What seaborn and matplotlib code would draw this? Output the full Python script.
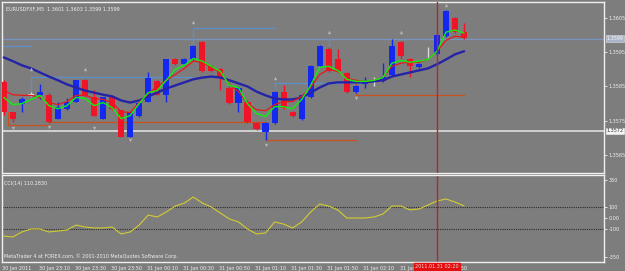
import numpy as np
import pandas as pd
import seaborn as sns
import matplotlib.pyplot as plt
import matplotlib.transforms as mtrans

# EURUSD M5 candles
opens = [1.35862, 1.35776, 1.35800, 1.35826, 1.35824, 1.35826, 1.35756, 1.35785, 1.35806, 1.35868,
         1.35818, 1.35756, 1.35821, 1.35782, 1.35703, 1.35765, 1.35806, 1.35865, 1.35824, 1.35929,
         1.35915, 1.35929, 1.35979, 1.35909, 1.35900, 1.35847, 1.35803, 1.35806, 1.35744, 1.35718,
         1.35744, 1.35835, 1.35776, 1.35756, 1.35818, 1.35909, 1.35959, 1.35929, 1.35888, 1.35835,
         1.35856, 1.35865, 1.35865, 1.35885, 1.35979, 1.35929, 1.35906, 1.35941, 1.35944, 1.35997,
         1.36050, 1.36009]
highs = [1.35868, 1.35776, 1.35818, 1.35835, 1.35856, 1.35832, 1.35806, 1.35815, 1.35868, 1.35871,
         1.35841, 1.35818, 1.35824, 1.35782, 1.35776, 1.35806, 1.35891, 1.35868, 1.35929, 1.35932,
         1.35932, 1.35971, 1.35982, 1.35912, 1.35903, 1.35850, 1.35850, 1.35809, 1.35747, 1.35747,
         1.35838, 1.35853, 1.35779, 1.35829, 1.35912, 1.35971, 1.35965, 1.35959, 1.35891, 1.35853,
         1.35879, 1.35879, 1.35918, 1.35988, 1.35982, 1.35932, 1.35918, 1.35965, 1.36003, 1.36074,
         1.36053, 1.36035]
lows = [1.35768, 1.35747, 1.35776, 1.35821, 1.35812, 1.35744, 1.35756, 1.35782, 1.35806, 1.35818,
        1.35765, 1.35756, 1.35782, 1.35703, 1.35703, 1.35762, 1.35806, 1.35824, 1.35806, 1.35912,
        1.35912, 1.35926, 1.35891, 1.35891, 1.35841, 1.35800, 1.35776, 1.35744, 1.35723, 1.35694,
        1.35741, 1.35785, 1.35762, 1.35753, 1.35815, 1.35906, 1.35891, 1.35891, 1.35832, 1.35832,
        1.35847, 1.35850, 1.35862, 1.35882, 1.35929, 1.35879, 1.35903, 1.35929, 1.35941, 1.35994,
        1.36006, 1.35988]
closes = [1.35774, 1.35756, 1.35812, 1.35826, 1.35835, 1.35747, 1.35791, 1.35806, 1.35868, 1.35821,
          1.35765, 1.35818, 1.35785, 1.35703, 1.35776, 1.35803, 1.35876, 1.35826, 1.35929, 1.35915,
          1.35929, 1.35968, 1.35894, 1.35894, 1.35879, 1.35803, 1.35847, 1.35747, 1.35726, 1.35744,
          1.35835, 1.35788, 1.35765, 1.35826, 1.35909, 1.35968, 1.35894, 1.35894, 1.35835, 1.35850,
          1.35865, 1.35865, 1.35879, 1.35968, 1.35938, 1.35909, 1.35915, 1.35941, 1.36000, 1.36071,
          1.36009, 1.35991]

# moving averages (slow navy, medium red, fast green)
ma_slow = [1.35935, 1.35924, 1.35912, 1.35903, 1.35891, 1.35879, 1.35868, 1.35856, 1.35847, 1.35838,
           1.35832, 1.35826, 1.35821, 1.35809, 1.35803, 1.35809, 1.35821, 1.35832, 1.35844, 1.35853,
           1.35862, 1.35871, 1.35876, 1.35879, 1.35876, 1.35868, 1.35859, 1.35850, 1.35835, 1.35824,
           1.35815, 1.35812, 1.35812, 1.35818, 1.35832, 1.35847, 1.35859, 1.35862, 1.35862, 1.35862,
           1.35862, 1.35865, 1.35868, 1.35879, 1.35885, 1.35891, 1.35897, 1.35903, 1.35915, 1.35929,
           1.35944, 1.35953]
ma_mid = [1.35838, 1.35826, 1.35824, 1.35824, 1.35818, 1.35803, 1.35797, 1.35806, 1.35824, 1.35824,
          1.35815, 1.35812, 1.35803, 1.35776, 1.35774, 1.35803, 1.35829, 1.35850, 1.35868, 1.35885,
          1.35903, 1.35924, 1.35921, 1.35906, 1.35891, 1.35856, 1.35835, 1.35800, 1.35782, 1.35779,
          1.35797, 1.35806, 1.35806, 1.35821, 1.35847, 1.35885, 1.35900, 1.35894, 1.35874, 1.35868,
          1.35865, 1.35868, 1.35876, 1.35909, 1.35918, 1.35921, 1.35921, 1.35929, 1.35953, 1.35985,
          1.35997, 1.35994]
ma_fast = [1.35818, 1.35797, 1.35800, 1.35812, 1.35824, 1.35794, 1.35785, 1.35794, 1.35818, 1.35815,
           1.35794, 1.35803, 1.35788, 1.35756, 1.35765, 1.35800, 1.35832, 1.35838, 1.35868, 1.35900,
           1.35912, 1.35932, 1.35924, 1.35909, 1.35894, 1.35853, 1.35847, 1.35800, 1.35771, 1.35762,
           1.35791, 1.35791, 1.35785, 1.35812, 1.35853, 1.35906, 1.35909, 1.35897, 1.35871, 1.35865,
           1.35865, 1.35868, 1.35876, 1.35918, 1.35926, 1.35921, 1.35924, 1.35929, 1.35953, 1.36009,
           1.36015, 1.36006]

cci = [-164, -173, -127, -100, -100, -127, -118, -109, -64, -82,
       -91, -91, -82, -145, -127, -64, 27, 9, 55, 109,
       136, 191, 136, 100, 45, -9, -36, -100, -145, -136,
       -36, -55, -91, -36, 55, 127, 109, 73, 0, 0,
       0, 9, 36, 109, 109, 73, 82, 118, 155, 173,
       145, 110]

# fractal levels drawn on the chart: (bar_from, bar_to, price_from, price_to)
resist_segments = [(-0.5, 3, 1.35968, 1.35968), (3, 3, 1.35879, 1.35818), (3, 21, 1.35879, 1.35879),
                   (21, 21, 1.36021, 1.35929), (21, 30, 1.36021, 1.36021), (30, 30, 1.35859, 1.35744),
                   (30, 40, 1.35859, 1.35859), (36, 36, 1.35991, 1.35894)]
support_segments = [(0.5, 0.5, 1.35774, 1.35738), (0.5, 5, 1.35738, 1.35738), (5, 29, 1.35747, 1.35747),
                    (29, 29, 1.35747, 1.35694), (29, 39, 1.35694, 1.35694), (39, 39, 1.35865, 1.35826),
                    (39, 51, 1.35826, 1.35826)]
fractal_up_bars = [3, 9, 21, 30, 36, 44, 49]
fractal_up_prices = [1.35900, 1.35900, 1.36038, 1.35876, 1.36009, 1.36009, 1.36088]
fractal_dn_bars = [1, 5, 10, 14, 29, 39]
fractal_dn_prices = [1.35730, 1.35732, 1.35730, 1.35694, 1.35680, 1.35815]

price_ticks = [1.3605, 1.3595, 1.3585, 1.3575, 1.3565]
bid_price = 1.3599
level_price = 1.3572
cci_ticks = [350, 100, 0, -100, -350]
cci_tick_labels = ["350", "100", "0.00", "-100", "-350"]
cci_levels = [100, -100]
time_labels = ["30 Jan 2011", "30 Jan 23:10", "30 Jan 23:30", "30 Jan 23:50", "31 Jan 00:10",
               "31 Jan 00:30", "31 Jan 00:50", "31 Jan 01:10", "31 Jan 01:30", "31 Jan 01:50",
               "31 Jan 02:10", "31 Jan 02:30", "31 Jan 02:50"]
cursor_bar = 48
cursor_label = "2011.01.31 02:20"
title_text = "EURUSDFXF,M5  1.3601 1.3603 1.3599 1.3599"
cci_text = "CCI(14) 110.2830"
copyright_text = "MetaTrader 4 at FOREX.com, \u00a9 2001-2010 MetaQuotes Software Corp."

bg = '#7d7d7d'
fg = '#f0f0f0'
fs = 3.5

sns.set_style("dark")
plt.rcParams['font.family'] = ['DejaVu Sans']

df = pd.DataFrame({'bar': np.arange(len(opens)), 'open': opens, 'high': highs,
                   'low': lows, 'close': closes, 'slow': ma_slow, 'mid': ma_mid,
                   'fast': ma_fast, 'cci': cci})
colors = np.where(df.close > df.open, '#1428f0',
                  np.where(df.close < df.open, '#f01428', '#d8d8d8'))

fig = plt.figure(figsize=(6.25, 2.71), dpi=100)
fig.patch.set_facecolor(bg)
ax = fig.add_axes([2 / 625, 1 - 173 / 271, 602 / 625, 171 / 271])
ax2 = fig.add_axes([2 / 625, 1 - 262 / 271, 602 / 625, 87 / 271])

for a in (ax, ax2):
    a.set_facecolor(bg)
    for s in a.spines.values():
        s.set_color(fg)
        s.set_linewidth(1)
    a.grid(False)
    a.set_xlim(-0.2, 66.5)
    a.yaxis.tick_right()
    a.tick_params(axis='y', colors=fg, labelsize=fs, length=2, width=0.6, pad=1.5)

# price panel
ax.axhline(bid_price, color='#7894c0', lw=0.9, zorder=1)
ax.axhline(level_price, color='#e8e8e8', lw=1.1, zorder=1)
for x0, x1, y0, y1 in resist_segments:
    ax.plot([x0, x1], [y0, y1], color='#5f8fc8', lw=0.9, zorder=1)
for x0, x1, y0, y1 in support_segments:
    ax.plot([x0, x1], [y0, y1], color='#c8501e', lw=0.9, zorder=1)

ax.vlines(df.bar, df.low, df.high, colors=colors, lw=1, zorder=2)
body_low = np.minimum(df.open, df.close)
body_h = np.maximum((df.close - df.open).abs(), 0.00002)
ax.bar(df.bar, body_h, bottom=body_low, width=0.68, color=colors, linewidth=0, zorder=3)

sns.lineplot(data=df, x='bar', y='slow', ax=ax, color='#2424a8', lw=1.7, zorder=4)
sns.lineplot(data=df, x='bar', y='mid', ax=ax, color='#e81818', lw=0.9, zorder=5)
sns.lineplot(data=df, x='bar', y='fast', ax=ax, color='#10f010', lw=1.0, zorder=6)

ax.scatter(fractal_up_bars, fractal_up_prices, marker='^', s=6, color='#b4b4b4', lw=0, zorder=7)
ax.scatter(fractal_dn_bars, fractal_dn_prices, marker='v', s=6, color='#b4b4b4', lw=0, zorder=7)

ax.axvline(cursor_bar, color='#b02a2a', lw=1, zorder=8)
ax.set_ylim(1.35597, 1.36097)
ax.set_yticks(price_ticks)
ax.set_yticklabels(['%.4f' % p for p in price_ticks])
ax.set_xticks([])
ax.set_xlabel('')
ax.set_ylabel('')
ax.text(0.006, 0.975, title_text, transform=ax.transAxes, color=fg, fontsize=fs,
        ha='left', va='top')
ytr = mtrans.blended_transform_factory(ax.transAxes, ax.transData)
ax.text(1.004, bid_price, '%.4f' % bid_price, transform=ytr, fontsize=fs, color='#f8f8f8',
        ha='left', va='center', bbox=dict(boxstyle='square,pad=0.15', fc='#a8b4c8', ec='#e0e0e0', lw=0.4))
ax.text(1.004, level_price, '%.4f' % level_price, transform=ytr, fontsize=fs, color='#303030',
        ha='left', va='center', bbox=dict(boxstyle='square,pad=0.15', fc='#f4f4f4', ec='#f4f4f4', lw=0.4))

# CCI panel
for lv in cci_levels:
    ax2.axhline(lv, color='#2a2a2a', lw=0.8, ls=(0, (1, 1)))
sns.lineplot(data=df, x='bar', y='cci', ax=ax2, color='#d2cc30', lw=0.8)
ax2.axvline(cursor_bar, color='#b02a2a', lw=1)
ax2.set_ylim(-400, 391)
ax2.set_yticks(cci_ticks)
ax2.set_yticklabels(cci_tick_labels)
ax2.set_xlabel('')
ax2.set_ylabel('')
tick_pos = np.arange(len(time_labels)) * 4 - 0.15
ax2.set_xticks(tick_pos)
ax2.set_xticklabels(time_labels)
ax2.tick_params(axis='x', colors=fg, labelsize=fs, length=2, width=0.6, pad=1)
for lbl in ax2.get_xticklabels():
    lbl.set_ha('left')
ax2.text(0.004, 0.93, cci_text, transform=ax2.transAxes, color=fg, fontsize=fs,
         ha='left', va='top')
ax2.text(0.004, 0.04, copyright_text, transform=ax2.transAxes, color=fg, fontsize=fs,
         ha='left', va='bottom')
xtr = mtrans.blended_transform_factory(ax2.transData, ax2.transAxes)
ax2.text(cursor_bar, -0.05, cursor_label, transform=xtr, fontsize=fs, color='#ffd0d0',
         ha='center', va='center', zorder=10,
         bbox=dict(boxstyle='square,pad=0.2', fc='#e01010', ec='#e01010'))

fig.savefig('out.png', dpi=100, facecolor=bg)
